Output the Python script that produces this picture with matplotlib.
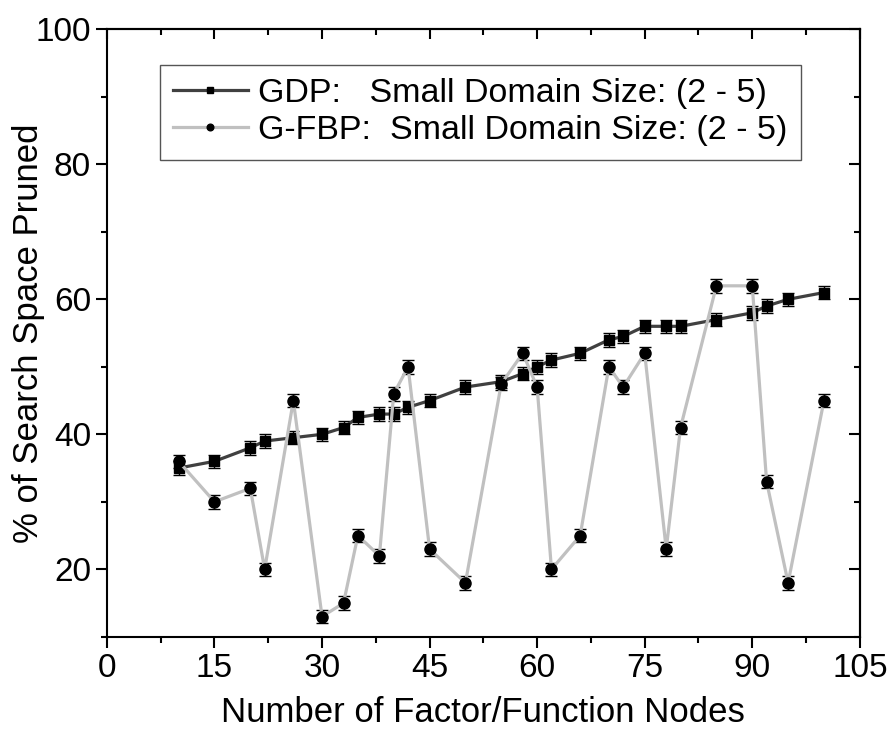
import matplotlib
matplotlib.use('Agg')
import matplotlib.pyplot as plt

plt.rcParams['font.family'] = ['Liberation Sans', 'DejaVu Sans']

# nodes in the factor graph
gdp_nodes = [10, 15, 20, 22, 26, 30, 33, 35, 38, 40, 42, 45, 50, 55, 58, 60, 62,
             66, 70, 72, 75, 78, 80, 85, 90, 92, 95, 100]
gdp_pruned = [35, 36, 38, 39, 39.5, 40, 41, 42.5, 43, 43, 44, 45, 47, 47.8, 49, 50, 51,
              52, 54, 54.5, 56, 56, 56, 57, 58, 59, 60, 61]
gdp_err = [1] * len(gdp_nodes)

fbp_nodes = gdp_nodes
fbp_pruned = [36, 30, 32, 20, 45, 13, 15, 25, 22, 46, 50, 23, 18, 47.5, 52, 47, 20,
              25, 50, 47, 52, 23, 41, 62, 62, 33, 18, 45]
fbp_err = [1] * len(fbp_nodes)

fig = plt.figure(figsize=(8.91, 7.32), dpi=100)
ax = fig.add_axes([0.120, 0.130, 0.845, 0.830])

gdp = ax.errorbar(gdp_nodes, gdp_pruned, yerr=gdp_err, color='#404040', lw=2.3,
                  marker='s', ms=7.5, mfc='k', mec='k', ecolor='k', elinewidth=1,
                  capsize=4.5, capthick=1)
fbp = ax.errorbar(fbp_nodes, fbp_pruned, yerr=fbp_err, color='#c0c0c0', lw=2.3,
                  marker='o', ms=8, mfc='k', mec='k', ecolor='k', elinewidth=1,
                  capsize=4.5, capthick=1)

ax.set_xlim(0, 105)
ax.set_ylim(10, 100)
ax.set_xticks(range(0, 106, 15))
ax.set_xticks([7.5 + 15 * i for i in range(7)], minor=True)
ax.set_yticks(range(20, 101, 20))
ax.set_yticks(range(10, 100, 20), minor=True)

ax.tick_params(which='both', direction='out', width=1.5, labelsize=24)
ax.tick_params(which='major', length=8)
ax.tick_params(which='minor', length=4)
for sp in ax.spines.values():
    sp.set_linewidth(1.5)

# inward ticks on the top and right frame
top = ax.secondary_xaxis('top')
top.set_xticks(range(0, 106, 15))
top.set_xticks([7.5 + 15 * i for i in range(7)], minor=True)
top.tick_params(which='both', direction='in', width=1.5, labeltop=False)
top.tick_params(which='major', length=7)
top.tick_params(which='minor', length=4)
top.spines['top'].set_linewidth(1.5)

right = ax.secondary_yaxis('right')
right.set_yticks(range(20, 101, 20))
right.set_yticks(range(10, 100, 20), minor=True)
right.tick_params(which='both', direction='in', width=1.5, labelright=False)
right.tick_params(which='major', length=8)
right.tick_params(which='minor', length=4)
right.spines['right'].set_linewidth(1.5)

ax.set_xlabel('Number of Factor/Function Nodes', fontsize=25, labelpad=9)
ax.set_ylabel('% of Search Space Pruned', fontsize=25)
ax.yaxis.set_label_coords(-0.082, 0.5)

# legend shows only the data lines, not the error bars
leg = ax.legend([gdp[0], fbp[0]],
                ['GDP:   Small Domain Size: (2 - 5)',
                 'G-FBP:  Small Domain Size: (2 - 5)'],
                loc='upper left', bbox_to_anchor=(0.070, 0.942),
                borderaxespad=0, fontsize=24.5, frameon=True, fancybox=False,
                edgecolor='#555555', framealpha=1, borderpad=0.39,
                handlelength=2.2, handletextpad=0.3, labelspacing=0.19,
                markerscale=0.6)
leg.get_frame().set_linewidth(1.0)

fig.savefig('out.png', dpi=100)
